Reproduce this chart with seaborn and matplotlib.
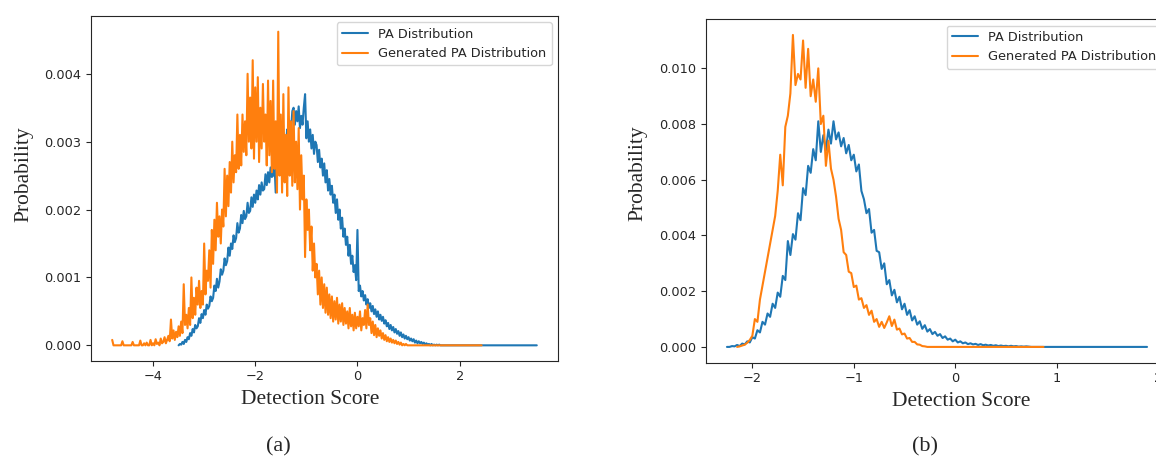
import numpy as np
import seaborn as sns
import matplotlib
matplotlib.use("Agg")
import matplotlib.pyplot as plt

# Histogram heights, in units of 1e-5 (probability per bin).
# Each series: first bin centre, bin width, last score (flat zero tail), heights.

# (a) PA Distribution
pa_a_start, pa_a_step, pa_a_end = -3.50, 0.025, 3.51
pa_a = [0, 2, 1, 5, 2, 8, 5, 12, 9, 18,
        14, 24, 19, 30, 25, 28, 40, 33, 46, 40,
        52, 45, 60, 54, 58, 72, 65, 70, 88, 80,
        98, 85, 94, 112, 104, 110, 128, 118, 124, 144,
        132, 150, 142, 162, 152, 158, 180, 166, 172, 192,
        180, 198, 186, 190, 210, 195, 198, 218, 204, 222,
        210, 228, 215, 236, 222, 240, 228, 230, 252, 236,
        255, 240, 262, 248, 250, 270, 225, 275, 262, 282,
        270, 290, 280, 305, 295, 318, 305, 330, 316, 345,
        350, 325, 345, 330, 352, 320, 338, 325, 350, 370,
        305, 330, 300, 318, 290, 310, 282, 300, 295, 270,
        288, 262, 275, 250, 268, 240, 258, 228, 245, 222,
        235, 210, 222, 195, 215, 185, 200, 172, 188, 160,
        172, 148, 160, 132, 148, 120, 132, 108, 118, 96,
        170, 80, 88, 72, 80, 66, 74, 60, 68, 55,
        62, 50, 58, 46, 53, 42, 50, 38, 45, 36,
        42, 32, 37, 28, 33, 24, 30, 22, 27, 19,
        24, 17, 21, 14, 19, 12, 16, 10, 14, 9,
        12, 7, 10, 6, 9, 4, 7, 3, 6, 3,
        5, 2, 4, 1, 3, 1, 2, 0, 2, 0,
        1, 0, 1, 0, 1, 0, 0]

# (a) Generated PA Distribution
gen_a_start, gen_a_step, gen_a_end = -4.80, 0.025, 2.43
gen_a = [8, 0, 0, 0, 0, 0, 0, 0, 6, 0,
         0, 0, 0, 0, 0, 0, 5, 0, 0, 0,
         0, 0, 7, 0, 0, 3, 0, 4, 0, 0,
         8, 0, 3, 0, 9, 2, 4, 0, 10, 3,
         5, 12, 3, 8, 14, 6, 38, 10, 22, 8,
         20, 12, 28, 14, 35, 18, 90, 30, 45, 25,
         55, 30, 100, 40, 70, 45, 85, 60, 95, 55,
         80, 60, 150, 75, 110, 95, 140, 85, 170, 120,
         185, 140, 210, 160, 190, 150, 200, 175, 260, 190,
         250, 205, 270, 225, 300, 240, 280, 255, 340, 260,
         310, 265, 340, 285, 330, 280, 400, 300, 365, 290,
         420, 275, 380, 300, 395, 270, 350, 290, 385, 300,
         340, 265, 390, 280, 360, 255, 390, 260, 330, 225,
         462, 250, 340, 225, 370, 240, 310, 220, 380, 250,
         330, 235, 345, 240, 300, 230, 320, 200, 280, 215,
         250, 130, 215, 170, 200, 140, 175, 110, 150, 100,
         120, 75, 110, 60, 100, 55, 90, 48, 85, 45,
         75, 40, 72, 35, 65, 38, 70, 32, 60, 35,
         62, 30, 55, 32, 50, 25, 55, 28, 45, 22,
         48, 25, 42, 28, 50, 22, 40, 30, 52, 25,
         60, 30, 40, 18, 35, 15, 30, 12, 25, 14,
         22, 10, 18, 8, 15, 6, 12, 5, 10, 4,
         8, 3, 7, 2, 5, 1, 4, 0, 2, 0,
         2, 0, 0]

# (b) PA Distribution
pa_b_start, pa_b_step, pa_b_end = -2.25, 0.025, 1.89
pa_b = [0, 0, 3, 2, 7, 3, 12, 9, 20, 16,
        35, 30, 60, 52, 90, 80, 120, 108, 155, 140,
        195, 180, 255, 240, 380, 330, 405, 385, 480, 455,
        570, 545, 650, 625, 710, 670, 810, 700, 760, 705,
        780, 730, 810, 745, 770, 720, 750, 695, 725, 670,
        690, 630, 655, 560, 530, 480, 495, 410, 420, 345,
        340, 280, 300, 225, 240, 185, 205, 160, 180, 135,
        155, 115, 132, 95, 110, 80, 92, 65, 78, 55,
        64, 46, 54, 40, 46, 32, 38, 26, 30, 20,
        26, 16, 20, 13, 16, 10, 13, 9, 11, 7,
        10, 6, 8, 5, 7, 4, 6, 3, 5, 3,
        4, 2, 4, 2, 3, 1, 2, 1, 2, 1, 0]

# (b) Generated PA Distribution
gen_b_start, gen_b_step, gen_b_end = -2.15, 0.025, 0.87
gen_b = [0, 2, 5, 8, 15, 25, 40, 100, 90, 170,
         220, 270, 320, 370, 420, 470, 560, 690, 580, 790,
         830, 910, 1120, 940, 980, 960, 1100, 930, 1070, 900,
         960, 880, 1000, 800, 830, 650, 740, 640, 600, 540,
         460, 420, 340, 330, 270, 265, 215, 220, 170, 175,
         140, 150, 115, 130, 90, 100, 72, 90, 68, 88,
         110, 75, 98, 62, 66, 45, 48, 30, 32, 18,
         18, 9, 8, 3, 2, 0]

labels = ["PA Distribution", "Generated PA Distribution"]
captions = ["(a)", "(b)"]


def series(start, step, end, vals):
    x = start + step * np.arange(len(vals))
    x = np.append(x, end)
    y = np.append(np.array(vals, dtype=float) * 1e-5, 0.0)
    return x, y


sns.set_style("ticks")
plt.rcParams["font.family"] = ["DejaVu Sans"]
colors = sns.color_palette("tab10")

fig = plt.figure(figsize=(11.56, 4.59), dpi=100)
ax1 = fig.add_axes([0.0787, 0.2135, 0.404, 0.7516])
ax2 = fig.add_axes([0.6107, 0.2102, 0.3997, 0.7477])

panels = [
    (ax1, series(pa_a_start, pa_a_step, pa_a_end, pa_a),
     series(gen_a_start, gen_a_step, gen_a_end, gen_a), (0.469, -0.124, 0.542)),
    (ax2, series(pa_b_start, pa_b_step, pa_b_end, pa_b),
     series(gen_b_start, gen_b_step, gen_b_end, gen_b), (0.552, -0.126, 0.553)),
]

serif = ["Liberation Serif", "DejaVu Serif"]
for ax, pa, gen, (xl, yl_x, yl_y) in panels:
    sns.lineplot(x=pa[0], y=pa[1], ax=ax, color=colors[0], linewidth=1.5,
                 label=labels[0], estimator=None, sort=False)
    sns.lineplot(x=gen[0], y=gen[1], ax=ax, color=colors[1], linewidth=1.5,
                 label=labels[1], estimator=None, sort=False)
    ax.set_xlabel("Detection Score", fontfamily=serif, fontsize=15.5)
    ax.set_ylabel("Probability", fontfamily=serif, fontsize=15.5)
    ax.xaxis.set_label_coords(xl, -0.085)
    ax.yaxis.set_label_coords(yl_x, yl_y)
    ax.tick_params(labelsize=9.3, length=3.3, width=0.8)
    for s in ax.spines.values():
        s.set_linewidth(0.8)
    ax.legend(loc="upper right", fontsize=9.3, frameon=True, fancybox=True,
              edgecolor="0.8", framealpha=0.8)

fig.text(0.2405, 0.026, captions[0], fontfamily=serif, fontsize=16,
         ha="center", va="center")
fig.text(0.800, 0.026, captions[1], fontfamily=serif, fontsize=16,
         ha="center", va="center")

fig.savefig("out.png", dpi=100)
